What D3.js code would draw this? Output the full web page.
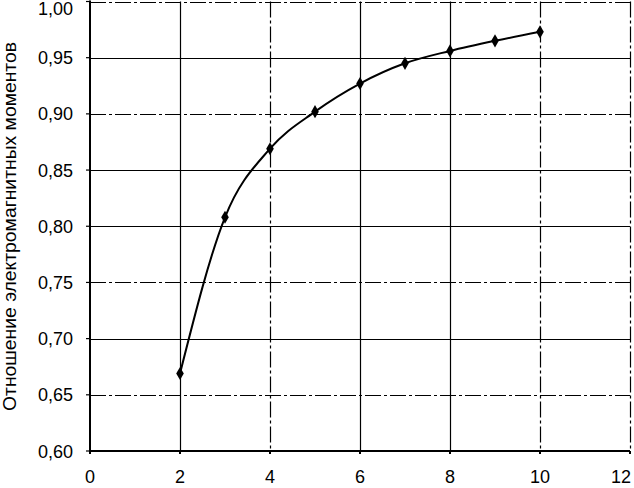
<!DOCTYPE html>
<html><head><meta charset="utf-8">
<script src="https://cdn.jsdelivr.net/npm/d3@7"></script>
<style>body{margin:0;background:#fff}svg{display:block}text{font-family:"Liberation Sans",Arial,sans-serif;fill:#000}</style>
</head><body><svg id="c" width="634" height="488"></svg>
<script>
const xs = [2, 3, 4, 5, 6, 7, 8, 9, 10];
const ratio = [0.669, 0.808, 0.869, 0.902, 0.927, 0.945, 0.956, 0.965, 0.973];
const xTicks = [0, 2, 4, 6, 8, 10, 12];
const yTicks = [0.60, 0.65, 0.70, 0.75, 0.80, 0.85, 0.90, 0.95, 1.00];
const yLabel = "Отношение электромагнитных моментов";
const dashedY = [0.65, 0.75, 0.90, 1.00];
const dashedX = [4, 10, 12];

const svg = d3.select("#c");
const x = d3.scaleLinear().domain([0, 12]).range([90, 630]);
const y = d3.scaleLinear().domain([0.60, 1.00]).range([451, 1.5]);
const fmt = v => d3.format(".2f")(v).replace(".", ",");

const g = svg.append("g");
g.selectAll(".hg").data(yTicks).join("line")
  .attr("x1", x(0)).attr("x2", x(12))
  .attr("y1", d => Math.round(y(d)) + 0.5).attr("y2", d => Math.round(y(d)) + 0.5)
  .attr("stroke", "#000").attr("stroke-width", 1.2)
  .attr("stroke-dasharray", d => dashedY.some(v => Math.abs(v - d) < 1e-6) ? "16,3,3,3" : null);
g.selectAll(".vg").data(xTicks.filter(d => d > 0)).join("line")
  .attr("y1", y(1.0)).attr("y2", y(0.6))
  .attr("x1", d => Math.round(x(d)) + 0.5).attr("x2", d => Math.round(x(d)) + 0.5)
  .attr("stroke", "#000").attr("stroke-width", 1.2)
  .attr("stroke-dasharray", d => dashedX.includes(d) ? "16,3,3,3" : null);

g.append("line").attr("x1", x(0)).attr("x2", x(0)).attr("y1", y(1.0) - 1).attr("y2", y(0.6) + 1)
  .attr("stroke", "#000").attr("stroke-width", 2);
g.append("line").attr("x1", x(0)).attr("x2", x(12)).attr("y1", y(0.6)).attr("y2", y(0.6))
  .attr("stroke", "#000").attr("stroke-width", 2);

g.selectAll(".yt").data(yTicks).join("line")
  .attr("x1", x(0) - 4).attr("x2", x(0))
  .attr("y1", d => y(d)).attr("y2", d => y(d)).attr("stroke", "#000").attr("stroke-width", 1.2);
g.selectAll(".xt").data(xTicks).join("line")
  .attr("x1", d => x(d)).attr("x2", d => x(d))
  .attr("y1", y(0.6)).attr("y2", y(0.6) + 3).attr("stroke", "#000").attr("stroke-width", 2);

g.selectAll(".yl").data(yTicks).join("text")
  .attr("x", 73).attr("y", d => Math.max(y(d) + 6.5, 15)).attr("text-anchor", "end")
  .attr("font-size", 18).text(fmt);
g.selectAll(".xl").data(xTicks).join("text")
  .attr("x", d => d === 12 ? 631 : x(d)).attr("y", 483)
  .attr("text-anchor", d => d === 12 ? "end" : "middle")
  .attr("font-size", 18).text(d => d);

svg.append("text").attr("transform", "translate(16,226.5) rotate(-90)")
  .attr("text-anchor", "middle").attr("font-size", 17.5)
  .attr("textLength", 369).attr("lengthAdjust", "spacingAndGlyphs").text(yLabel);

const data = xs.map((d, i) => [d, ratio[i]]);
svg.append("path").datum(data)
  .attr("d", d3.line().x(d => x(d[0])).y(d => y(d[1])).curve(d3.curveMonotoneX))
  .attr("fill", "none").attr("stroke", "#000").attr("stroke-width", 2);
svg.selectAll(".m").data(data).join("path")
  .attr("transform", d => `translate(${x(d[0])},${y(d[1])})`)
  .attr("d", d3.symbol(d3.symbolDiamond, 50)())
  .attr("fill", "#000");
</script></body></html>
